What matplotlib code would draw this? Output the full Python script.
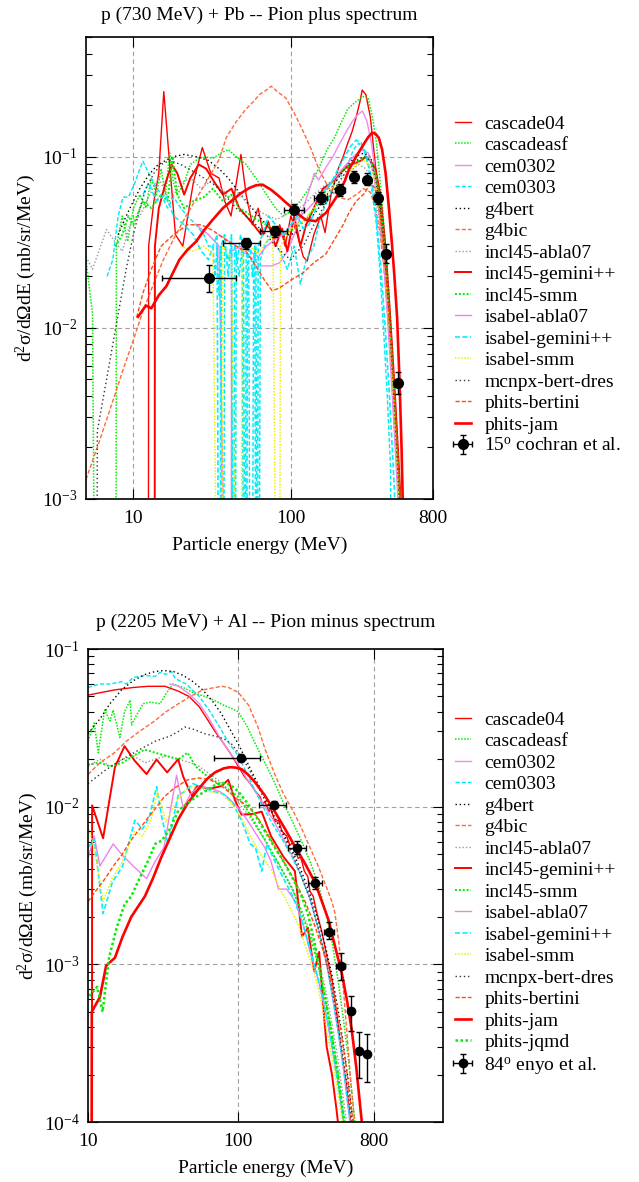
import numpy as np
import matplotlib
matplotlib.use("Agg")
import matplotlib.pyplot as plt
from matplotlib.ticker import FixedLocator, FixedFormatter, LogLocator, NullFormatter

plt.rcParams['font.family'] = ['Liberation Serif', 'DejaVu Serif']
plt.rcParams['mathtext.fontset'] = 'stix'
FS = 14

ZERO = 1e-6  # empty bins, drawn off the bottom of the log axis

# ---- p (730 MeV) + Pb, pi+ at 15 deg : (energy MeV, d2sigma) ----
pb_cascade04 = [(12.4, ZERO), (12.5, 0.03), (13.5, 0.055), (14.5, 0.08), (15.6, 0.24), (17, 0.09),
                (18.5, 0.035), (20.6, 0.03), (24, 0.07), (27.4, 0.113), (31, 0.08), (35, 0.075),
                (38, 0.055), (41.7, 0.045), (45, 0.07), (48.2, 0.103), (52, 0.06), (57, 0.04),
                (62, 0.05), (67, 0.035), (72, 0.042), (78, 0.032), (85, 0.04), (92, 0.03),
                (100, 0.045), (110, 0.035), (120, 0.026), (127, 0.0245), (140, 0.035), (155, 0.045),
                (165, 0.036), (180, 0.06), (200, 0.085), (215, 0.1), (230, 0.12), (245, 0.14),
                (260, 0.17), (275, 0.21), (284, 0.245), (300, 0.23), (320, 0.17), (340, 0.1),
                (360, 0.06), (380, 0.04), (400, 0.025), (420, 0.014), (440, 0.007), (460, 0.0035),
                (480, 0.0017), (500, 0.0008)]
pb_cascadeasf = [(5, 0.025), (5.5, 0.012), (5.9, ZERO), (7.7, ZERO), (7.8, 0.03), (8.5, 0.045),
                 (9.2, 0.032), (10, 0.05), (11, 0.06), (12, 0.05), (13, 0.075), (14, 0.06),
                 (15, 0.085), (16, 0.06), (17, 0.105), (18, 0.07), (19, 0.06), (21, 0.07),
                 (23, 0.09), (25, 0.095), (28, 0.1), (32, 0.098), (36, 0.105), (40, 0.11),
                 (45, 0.1), (52, 0.09), (60, 0.075), (70, 0.06), (80, 0.05), (90, 0.045),
                 (100, 0.048), (115, 0.055), (130, 0.065), (150, 0.085), (170, 0.11), (190, 0.13),
                 (210, 0.16), (230, 0.19), (260, 0.21), (290, 0.225), (310, 0.22), (330, 0.17),
                 (350, 0.12), (370, 0.07), (390, 0.04), (410, 0.022), (430, 0.011), (450, 0.005),
                 (470, 0.0022), (490, 0.001), (510, 0.0005)]
pb_cem0302 = [(35, 0.035), (45, 0.03), (55, 0.026), (65, 0.023), (75, 0.023), (85, 0.024),
              (95, 0.028), (105, 0.035), (120, 0.05), (135, 0.07), (141, 0.08), (150, 0.073),
              (165, 0.085), (185, 0.1), (205, 0.12), (225, 0.14), (245, 0.16), (265, 0.175),
              (285, 0.185), (305, 0.16), (325, 0.12), (345, 0.08), (365, 0.05), (390, 0.028),
              (415, 0.013), (440, 0.005), (465, 0.002), (490, 0.0008)]
pb_cem0303 = [(6.8, 0.02), (7.4, 0.025), (8, 0.045), (8.6, 0.058), (9.3, 0.058), (10.2, 0.07),
              (11, 0.085), (11.5, 0.094), (12.5, 0.08), (13.5, 0.07), (15, 0.06), (16.5, 0.05),
              (18, 0.058), (20, 0.05), (22, 0.045), (25, 0.04), (28, 0.035), (30, 0.03),
              (32, 0.03), (33, 0.02), (34, 0.03), (35, 0.0155), (36, 0.03), (37, ZERO),
              (38, 0.03), (40, 0.025), (42, 0.03), (44, ZERO), (45, 0.027), (47, 0.02),
              (49, 0.03), (51, ZERO), (52, 0.025), (54, 0.03), (56, ZERO), (58, 0.022),
              (60, 0.03), (62, ZERO), (64, 0.025), (68, 0.03), (75, 0.035), (85, 0.028),
              (95, 0.022), (105, 0.03), (115, 0.018), (125, 0.025), (140, 0.03), (155, 0.045),
              (170, 0.055), (190, 0.07), (210, 0.08), (230, 0.09), (250, 0.11), (270, 0.12),
              (290, 0.11), (310, 0.09), (330, 0.06), (350, 0.04), (370, 0.02), (390, 0.009),
              (410, 0.004), (430, 0.0015), (445, ZERO)]
pb_g4bert = [(8, 0.035), (9, 0.045), (10, 0.055), (11, 0.065), (12.5, 0.078), (14, 0.088),
             (16, 0.095), (18, 0.1), (21, 0.103), (25, 0.1), (30, 0.095), (35, 0.085),
             (40, 0.075), (45, 0.065), (52, 0.055), (60, 0.047), (70, 0.04), (80, 0.036),
             (90, 0.035), (100, 0.035), (115, 0.037), (130, 0.042), (150, 0.05), (170, 0.06),
             (200, 0.075), (230, 0.09), (260, 0.1), (290, 0.105), (320, 0.1), (345, 0.08),
             (370, 0.05), (395, 0.028), (420, 0.013), (445, 0.006), (470, 0.0025), (495, 0.001),
             (520, 0.0004)]
pb_g4bic = [(5, 0.0013), (6, 0.0021), (7, 0.0032), (8.6, 0.0057), (10, 0.0085), (11.5, 0.0125),
            (13.4, 0.018), (15.5, 0.025), (18, 0.033), (21.6, 0.045), (26, 0.06), (30, 0.075),
            (35, 0.096), (39, 0.13), (45, 0.16), (52, 0.19), (58, 0.21), (63, 0.23), (70, 0.245),
            (75, 0.258), (82, 0.24), (93, 0.22), (105, 0.18), (118, 0.145), (135, 0.11),
            (151, 0.084), (175, 0.065), (200, 0.058), (230, 0.056), (260, 0.06), (290, 0.065),
            (320, 0.062), (345, 0.05), (370, 0.035), (395, 0.02), (420, 0.01), (445, 0.0045),
            (470, 0.002), (500, 0.0008)]
pb_incl45_abla07 = [(5, 0.026), (5.5, 0.022), (6.75, 0.0375), (7.6, 0.032), (8.5, 0.028),
                    (9.5, 0.04), (11, 0.045), (12.7, 0.06), (14.5, 0.075), (17, 0.055), (20, 0.07),
                    (23, 0.075), (27, 0.065), (31, 0.072), (36, 0.065), (41, 0.058), (47, 0.062),
                    (55, 0.05), (63, 0.048), (72, 0.045), (82, 0.043), (93, 0.046), (105, 0.048),
                    (120, 0.052), (140, 0.06), (165, 0.068), (195, 0.075), (230, 0.08), (270, 0.09),
                    (300, 0.085), (330, 0.07), (355, 0.05), (380, 0.03), (405, 0.015), (430, 0.007),
                    (455, 0.003), (480, 0.0012), (505, 0.0005)]
pb_incl45_gemini = [(13.6, ZERO), (13.7, 0.03), (14.5, 0.05), (16, 0.07), (17.5, 0.09), (19, 0.08),
                    (21, 0.06), (23, 0.075), (26, 0.09), (29, 0.085), (33, 0.07), (37, 0.06),
                    (42, 0.065), (47, 0.05), (52, 0.045), (58, 0.04), (65, 0.035), (72, 0.04),
                    (80, 0.03), (88, 0.038), (95, 0.028), (105, 0.045), (115, 0.03), (125, 0.04),
                    (140, 0.05), (160, 0.065), (180, 0.07), (200, 0.078), (220, 0.085), (240, 0.09),
                    (260, 0.092), (280, 0.095), (300, 0.1), (320, 0.095), (345, 0.085), (370, 0.06),
                    (395, 0.033), (420, 0.015), (445, 0.0065), (470, 0.0027), (495, 0.0011),
                    (520, 0.0004)]
pb_incl45_smm = [(7.7, 0.03), (8.5, 0.035), (9.3, 0.045), (10, 0.04), (11.5, 0.055), (13, 0.05),
                 (15, 0.06), (16.5, 0.055), (17.7, 0.1), (19, 0.06), (21, 0.05), (24, 0.055),
                 (28, 0.058), (32, 0.065), (37, 0.055), (42, 0.06), (47, 0.05), (53, 0.047),
                 (60, 0.043), (70, 0.04), (80, 0.038), (90, 0.035), (100, 0.037), (115, 0.04),
                 (130, 0.045), (150, 0.055), (170, 0.065), (190, 0.075), (215, 0.085), (240, 0.09),
                 (270, 0.095), (300, 0.1), (320, 0.095), (345, 0.08), (370, 0.055), (395, 0.03),
                 (420, 0.013), (445, 0.0055), (470, 0.0022), (495, 0.0009), (520, 0.0004)]
pb_isabel_abla07 = [(25, 0.04), (30, 0.035), (35, 0.03), (41.7, ZERO), (42, 0.028), (48, 0.03),
                    (55, 0.028), (62, 0.026), (70, 0.03), (80, 0.033), (90, 0.035), (100, 0.04),
                    (115, 0.045), (130, 0.05), (150, 0.058), (170, 0.066), (190, 0.075),
                    (220, 0.088), (250, 0.1), (280, 0.11), (310, 0.105), (335, 0.08), (360, 0.05),
                    (385, 0.028), (410, 0.012), (435, 0.005), (460, 0.002), (485, 0.0008)]
pb_isabel_gemini = [(11.5, 0.06), (12.5, 0.07), (14, 0.055), (16, 0.06), (18, 0.045), (21, 0.04),
                    (24, 0.035), (27, 0.028), (30, 0.025), (32, 0.03), (34, 0.035), (35.5, ZERO),
                    (36, 0.03), (38, 0.035), (40, 0.02), (42, 0.035), (43, ZERO), (44, 0.03),
                    (46, 0.025), (48, 0.035), (50, 0.03), (52, ZERO), (53, 0.028), (55, 0.033),
                    (57, 0.02), (59, 0.03), (61, ZERO), (62, 0.03), (66, 0.035), (72, 0.045),
                    (80, 0.04), (90, 0.035), (100, 0.04), (110, 0.045), (120, 0.038), (130, 0.04),
                    (145, 0.05), (160, 0.062), (180, 0.07), (200, 0.085), (220, 0.1), (240, 0.115),
                    (260, 0.125), (280, 0.12), (300, 0.105), (320, 0.08), (345, 0.05), (370, 0.025),
                    (395, 0.011), (420, 0.0045), (445, 0.0017), (470, 0.0006)]
pb_isabel_smm = [(20, 0.03), (24, 0.028), (28, 0.03), (32, 0.027), (36, ZERO), (37, 0.03),
                 (42, 0.025), (48, ZERO), (49, 0.028), (55, 0.03), (62, 0.027), (70, 0.032),
                 (77, 0.035), (84, ZERO), (86, 0.03), (95, 0.035), (105, 0.04), (120, 0.042),
                 (140, 0.05), (160, 0.058), (180, 0.065), (200, 0.07), (230, 0.08), (260, 0.09),
                 (290, 0.095), (320, 0.088), (345, 0.07), (370, 0.045), (395, 0.024), (420, 0.011),
                 (445, 0.0045), (470, 0.0018), (495, 0.0007)]
pb_mcnpx = [(5.8, ZERO), (5.9, 0.0025), (7, 0.006), (8, 0.012), (9, 0.022), (10, 0.035),
            (11, 0.05), (12, 0.065), (13.5, 0.08), (15, 0.09), (17, 0.095), (20, 0.09),
            (24, 0.082), (28, 0.075), (33, 0.068), (38, 0.06), (45, 0.05), (52, 0.045),
            (60, 0.04), (70, 0.035), (80, 0.03), (90, 0.027), (100, 0.025), (110, 0.028),
            (120, 0.03), (140, 0.04), (160, 0.05), (180, 0.06), (200, 0.07), (230, 0.085),
            (260, 0.095), (290, 0.1), (320, 0.095), (345, 0.075), (370, 0.048), (395, 0.026),
            (420, 0.012), (445, 0.005), (470, 0.002), (495, 0.0008)]
pb_phits_bertini = [(10.5, 0.0115), (11.5, 0.016), (13, 0.022), (15, 0.03), (18, 0.035),
                    (22, 0.04), (27, 0.04), (32, 0.037), (38, 0.033), (45, 0.03), (52, 0.028),
                    (60, 0.023), (68, 0.019), (76, 0.0165), (84, 0.017), (100, 0.019),
                    (120, 0.021), (140, 0.024), (167, 0.027), (190, 0.033), (215, 0.04),
                    (234, 0.047), (260, 0.055), (294, 0.061), (320, 0.07), (345, 0.065),
                    (370, 0.045), (395, 0.025), (420, 0.012), (445, 0.0055), (470, 0.0024),
                    (495, 0.001), (520, 0.0004)]
pb_phits_jam = [(10.7, 0.0116), (12, 0.0135), (13, 0.013), (14.5, 0.0155), (16.2, 0.0175),
                (19.6, 0.025), (22, 0.0285), (25.1, 0.032), (28, 0.037), (31.9, 0.0428),
                (37, 0.05), (42.8, 0.056), (48, 0.061), (54.5, 0.0656), (60, 0.068),
                (66.2, 0.0686), (75, 0.064), (84.3, 0.0586), (93, 0.054), (102.5, 0.0501),
                (112, 0.046), (124, 0.0428), (144, 0.042), (167, 0.0469), (185, 0.054),
                (202, 0.0613), (220, 0.072), (234, 0.084), (260, 0.1), (290, 0.118),
                (310, 0.13), (329, 0.138), (345, 0.136), (362, 0.129), (380, 0.11),
                (400, 0.08), (420, 0.05), (440, 0.03), (455, 0.02), (473, 0.0116),
                (490, 0.005), (505, 0.002), (515, 0.0009)]

pb_exp_E = [30.1, 52.1, 78.9, 105, 155, 204, 253, 304, 359, 405, 483]
pb_exp_E_lo = [15.3, 37.1, 64, 90, 141, 190, 240, 292, 350, 398, 475]
pb_exp_E_hi = [44.8, 63.6, 94.6, 121, 170, 222, 268, 318, 368, 412, 490]
pb_exp_y = [0.0195, 0.0314, 0.0366, 0.049, 0.0573, 0.064, 0.0757, 0.0734, 0.0573, 0.0271, 0.00476]
pb_exp_y_lo = [0.0162, 0.029, 0.034, 0.046, 0.053, 0.059, 0.070, 0.068, 0.053, 0.024, 0.0041]
pb_exp_y_hi = [0.0234, 0.0336, 0.0394, 0.053, 0.062, 0.069, 0.082, 0.080, 0.062, 0.031, 0.0055]

# ---- p (2205 MeV) + Al, pi- at 84 deg ----
al_cascade04 = [(10, 0.051), (15, 0.055), (20, 0.057), (25, 0.058), (32.5, 0.058), (40, 0.054),
                (47, 0.05), (55, 0.043), (62, 0.036), (70, 0.03), (78, 0.026), (88, 0.022),
                (100, 0.018), (110, 0.0155), (120, 0.014), (130, 0.0125), (140, 0.0115),
                (145, 0.0103), (150, 0.0108), (160, 0.0093), (165, 0.0097), (175, 0.008),
                (185, 0.0082), (195, 0.007), (210, 0.0065), (220, 0.0057), (230, 0.0059),
                (250, 0.0047), (260, 0.0048), (275, 0.0039), (290, 0.0036), (300, 0.0029),
                (315, 0.0027), (330, 0.0022), (360, 0.0016), (390, 0.0011), (420, 0.0008),
                (450, 0.0005), (480, 0.0003), (520, 0.00018), (560, 0.0001), (600, 0.00006)]
al_cascadeasf = [(10, 0.026), (11, 0.034), (11.7, 0.022), (12.9, 0.041), (14, 0.035), (14.7, 0.041),
                 (16.3, 0.0275), (17.5, 0.04), (19.1, 0.0474), (19.5, 0.033), (21, 0.038),
                 (23.3, 0.045), (26, 0.046), (30.2, 0.045), (33, 0.052), (36.8, 0.06), (43, 0.057),
                 (50, 0.053), (60, 0.05), (70, 0.047), (80, 0.044), (90, 0.042), (100, 0.04),
                 (115, 0.032), (130, 0.025), (150, 0.019), (170, 0.015), (200, 0.0105),
                 (230, 0.008), (260, 0.0062), (300, 0.0045), (340, 0.0032), (380, 0.0022),
                 (420, 0.0014), (460, 0.0008), (500, 0.00045), (540, 0.00025), (580, 0.00013),
                 (620, 0.00007)]
al_cem0302 = [(35, 0.06), (40, 0.058), (47, 0.052), (55, 0.045), (62, 0.038), (70, 0.031),
              (78, 0.026), (88, 0.022), (100, 0.0185), (115, 0.0148), (130, 0.0125), (150, 0.01),
              (170, 0.0083), (200, 0.0062), (230, 0.0048), (260, 0.0037), (300, 0.0026),
              (340, 0.0017), (380, 0.0011), (420, 0.00065), (460, 0.00038), (500, 0.00022),
              (540, 0.00012), (580, 0.00007)]
al_cem0303 = [(10, 0.057), (12, 0.06), (14, 0.06), (16.7, 0.062), (18, 0.06), (20, 0.066),
              (24, 0.068), (28, 0.067), (30, 0.071), (33, 0.069), (36, 0.072), (38, 0.065),
              (45, 0.06), (55, 0.05), (65, 0.04), (75, 0.032), (85, 0.026), (100, 0.021),
              (115, 0.016), (130, 0.0125), (150, 0.0095), (170, 0.0077), (200, 0.006),
              (230, 0.0047), (260, 0.0037), (300, 0.0026), (340, 0.0017), (380, 0.0011),
              (420, 0.00065), (460, 0.00038), (500, 0.00022), (540, 0.00012), (580, 0.00007)]
al_g4bert = [(10, 0.029), (12, 0.036), (14, 0.045), (16.7, 0.055), (20, 0.063), (24, 0.069),
             (28, 0.072), (32, 0.073), (37, 0.072), (43, 0.068), (50, 0.062), (58, 0.055),
             (67, 0.047), (77, 0.039), (88, 0.031), (100, 0.025), (115, 0.019), (130, 0.015),
             (150, 0.0115), (175, 0.0085), (200, 0.0067), (230, 0.0052), (260, 0.004),
             (300, 0.0028), (340, 0.0019), (380, 0.0013), (420, 0.00085), (460, 0.00052),
             (500, 0.00031), (540, 0.00018), (580, 0.0001), (620, 0.00006)]
al_g4bic = [(10, 0.016), (12, 0.019), (15, 0.022), (18, 0.026), (22, 0.03), (27.8, 0.035),
            (33, 0.04), (40, 0.045), (48, 0.05), (58, 0.055), (70, 0.057), (78, 0.058),
            (86, 0.057), (100, 0.053), (117, 0.044), (135, 0.032), (151, 0.023), (175, 0.016),
            (200, 0.012), (230, 0.0095), (260, 0.0075), (300, 0.0055), (340, 0.0042),
            (380, 0.0032), (420, 0.0025), (440, 0.0021), (470, 0.0013), (500, 0.0007),
            (530, 0.00035), (560, 0.00018), (600, 0.00009)]
al_incl45_abla07 = [(10, 0.018), (12, 0.02), (14, 0.018), (17, 0.02), (20, 0.021), (24, 0.019),
                    (28, 0.02), (33, 0.021), (40, 0.02), (48, 0.019), (55, 0.018), (65, 0.016),
                    (75, 0.0145), (90, 0.012), (105, 0.01), (120, 0.0085), (140, 0.0068),
                    (160, 0.0055), (185, 0.0044), (210, 0.0035), (240, 0.0027), (270, 0.0021),
                    (300, 0.0016), (340, 0.0011), (380, 0.0007), (420, 0.00042), (460, 0.00025),
                    (500, 0.00014), (540, 0.00008)]
al_incl45_gemini = [(10.6, ZERO), (10.65, 0.0102), (12.6, 0.0063), (15.1, 0.0178), (17.5, 0.0242),
                    (20.5, 0.0195), (24.5, 0.0161), (28.6, 0.0199), (33.6, 0.0165), (39.8, 0.02),
                    (43, 0.0155), (48.8, 0.0118), (53, 0.0135), (65, 0.013), (77, 0.0135),
                    (85.8, 0.0148), (95, 0.011), (105, 0.0089), (125, 0.009), (143, 0.0093),
                    (165, 0.0065), (200, 0.0048), (238, 0.0039), (265, 0.0015), (290, 0.0017),
                    (320, 0.0009), (345, 0.0012), (370, 0.0005), (387, 0.0003), (420, 0.0002),
                    (450, 0.00012), (480, 0.00007)]
al_incl45_smm = [(10, 0.0185), (12, 0.019), (14, 0.018), (17, 0.019), (20, 0.021), (23.8, 0.023),
                 (28, 0.022), (33, 0.021), (40, 0.02), (46, 0.022), (52, 0.018), (60, 0.016),
                 (70, 0.0145), (80, 0.0135), (90, 0.0125), (100, 0.0115), (115, 0.0095),
                 (130, 0.0078), (150, 0.0062), (170, 0.005), (200, 0.0038), (230, 0.003),
                 (260, 0.0022), (300, 0.0015), (340, 0.001), (380, 0.0006), (420, 0.00035),
                 (460, 0.0002), (500, 0.00011), (540, 0.00006)]
al_isabel_abla07 = [(10, 0.0047), (11, 0.0065), (12, 0.0042), (14.7, 0.0058), (17, 0.0049),
                    (20, 0.0042), (24.5, 0.0035), (28, 0.0045), (32, 0.0055), (38.8, 0.0158),
                    (43, 0.0098), (48, 0.012), (55, 0.0135), (65, 0.013), (75, 0.0125),
                    (85, 0.0115), (100, 0.0098), (115, 0.0082), (130, 0.0068), (150, 0.0055),
                    (165, 0.0045), (185, 0.003), (210, 0.003), (240, 0.0025), (270, 0.0018),
                    (300, 0.0012), (340, 0.0008), (380, 0.0005), (420, 0.0003), (460, 0.00018),
                    (500, 0.0001), (540, 0.00006)]
al_isabel_gemini = [(10, 0.0055), (11, 0.0062), (12.6, 0.0021), (14.5, 0.0033), (17, 0.0042),
                    (20.5, 0.0082), (23, 0.0072), (25.5, 0.0085), (28.6, 0.0134), (31, 0.0085),
                    (34, 0.0058), (39.8, 0.0118), (44, 0.0125), (50, 0.014), (58, 0.0132),
                    (68, 0.0125), (80, 0.012), (92, 0.0105), (105, 0.0082), (120, 0.0058),
                    (130, 0.0055), (143, 0.0039), (155, 0.0058), (175, 0.0045), (200, 0.0035),
                    (230, 0.0027), (260, 0.002), (290, 0.0014), (330, 0.0009), (370, 0.00058),
                    (410, 0.00035), (450, 0.0002), (490, 0.00012), (530, 0.00007)]
al_isabel_smm = [(10, 0.0075), (11, 0.0055), (12.6, 0.0025), (14.5, 0.0035), (17, 0.0045),
                 (20.5, 0.007), (23, 0.0065), (26, 0.008), (29, 0.0125), (33, 0.008), (37, 0.01),
                 (42, 0.012), (48, 0.0135), (55, 0.013), (65, 0.0125), (78, 0.012), (90, 0.0105),
                 (105, 0.0085), (120, 0.0065), (140, 0.005), (165, 0.004), (190, 0.003),
                 (220, 0.0023), (250, 0.0018), (280, 0.0013), (320, 0.0009), (360, 0.00055),
                 (400, 0.00033), (440, 0.0002), (480, 0.00012), (520, 0.00007)]
al_mcnpx = [(10, 0.014), (13, 0.017), (17, 0.02), (22, 0.023), (28, 0.026), (35, 0.028),
            (40, 0.03), (44, 0.032), (50, 0.031), (60, 0.029), (70, 0.028), (80, 0.027),
            (90, 0.025), (100, 0.022), (115, 0.018), (130, 0.0145), (150, 0.011), (175, 0.0085),
            (200, 0.0065), (230, 0.005), (260, 0.0037), (300, 0.0026), (340, 0.0017),
            (380, 0.0011), (420, 0.0007), (460, 0.00042), (500, 0.00025), (540, 0.00015),
            (580, 0.00009)]
al_phits_bertini = [(10, 0.0025), (11.5, 0.003), (13, 0.0035), (15, 0.0043), (16.7, 0.0049),
                    (19, 0.006), (22, 0.0072), (25, 0.0085), (27.8, 0.0096), (32, 0.0115),
                    (37, 0.013), (46, 0.0148), (55, 0.0152), (65, 0.0148), (77, 0.0136),
                    (90, 0.012), (100, 0.011), (117, 0.01), (135, 0.0085), (155, 0.0068),
                    (180, 0.0053), (215, 0.004), (245, 0.0032), (278, 0.0025), (320, 0.0018),
                    (359, 0.0013), (400, 0.0009), (440, 0.0006), (480, 0.00038), (520, 0.00023),
                    (560, 0.00013), (600, 0.00008)]
al_phits_jam = [(10.5, ZERO), (10.6, 0.0005), (12, 0.00062), (13.2, 0.00098), (15.1, 0.0011),
                (17, 0.0015), (19.4, 0.002), (23.9, 0.0027), (27, 0.0035), (30.8, 0.0048),
                (35, 0.0063), (39.8, 0.0083), (46, 0.0105), (54.2, 0.0129), (62, 0.015),
                (70, 0.0165), (80, 0.0175), (88, 0.0178), (96, 0.0177), (105, 0.0173),
                (116, 0.016), (129, 0.0143), (150, 0.0118), (175, 0.0093), (205, 0.0072),
                (238, 0.0056), (280, 0.0043), (324, 0.0033), (360, 0.0025), (399, 0.0019),
                (440, 0.0013), (489, 0.00087), (530, 0.00058), (569, 0.00038), (610, 0.00022),
                (650, 0.00012), (690, 0.00007)]
al_phits_jqmd = [(10.2, 0.00063), (11.5, 0.00072), (12.5, 0.0005), (13.8, 0.0011), (15.5, 0.0017),
                 (17.5, 0.0024), (19.4, 0.0027), (22, 0.0035), (25, 0.0045), (28, 0.0058),
                 (31, 0.0061), (35, 0.0072), (40, 0.0095), (46, 0.0105), (52, 0.0115),
                 (60, 0.0125), (68, 0.0135), (78, 0.0142), (88, 0.0138), (100, 0.0125),
                 (115, 0.0105), (130, 0.0088), (150, 0.007), (175, 0.0055), (200, 0.0045),
                 (230, 0.0035), (260, 0.0028), (290, 0.0021), (320, 0.0014), (350, 0.0009),
                 (380, 0.0006), (420, 0.00035), (460, 0.0002), (500, 0.00011), (540, 0.00006)]

al_exp_E = [103.6, 173, 247, 323, 400, 481, 561, 634, 721]
al_exp_E_lo = [68.8, 138, 213, 293, 369, 445, 545, 625, 712]
al_exp_E_hi = [139.7, 208, 284, 359, 435, 516, 575, 643, 730]
al_exp_y = [0.0203, 0.0103, 0.0055, 0.00328, 0.0016, 0.00097, 0.000506, 0.000282, 0.000268]
al_exp_y_lo = [0.0195, 0.0098, 0.0050, 0.0030, 0.00145, 0.0008, 0.00038, 0.00019, 0.00018]
al_exp_y_hi = [0.0212, 0.0109, 0.0061, 0.0036, 0.00185, 0.00118, 0.00063, 0.00037, 0.00036]

# line styles, gnuplot-like
DASH = (0, (3, 1.5))
DOT = (0, (1, 1))
styles = {
    'cascade04': dict(color='#ff0000', ls='-', lw=1.0),
    'cascadeasf': dict(color='#00ee00', ls=DOT, lw=1.1),
    'cem0302': dict(color='#f08af0', ls='-', lw=1.0),
    'cem0303': dict(color='#00e8f0', ls=DASH, lw=1.0),
    'g4bert': dict(color='#000000', ls=(0, (1, 2)), lw=1.0),
    'g4bic': dict(color='#ff6a3a', ls=DASH, lw=1.0),
    'incl45-abla07': dict(color='#999999', ls=(0, (1, 1.5)), lw=1.0),
    'incl45-gemini++': dict(color='#ff0000', ls='-', lw=1.4),
    'incl45-smm': dict(color='#00ee00', ls=DOT, lw=1.4),
    'isabel-abla07': dict(color='#ee82ee', ls='-', lw=1.0),
    'isabel-gemini++': dict(color='#00f0ff', ls=DASH, lw=1.2),
    'isabel-smm': dict(color='#eeee00', ls=DOT, lw=1.1),
    'mcnpx-bert-dres': dict(color='#333333', ls=(0, (1, 2)), lw=1.0),
    'phits-bertini': dict(color='#ff4a10', ls=DASH, lw=1.0),
    'phits-jam': dict(color='#ff0000', ls='-', lw=1.9),
    'phits-jqmd': dict(color='#00ee00', ls=DOT, lw=1.8),
}

pb_models = [('cascade04', pb_cascade04), ('cascadeasf', pb_cascadeasf), ('cem0302', pb_cem0302),
             ('cem0303', pb_cem0303), ('g4bert', pb_g4bert), ('g4bic', pb_g4bic),
             ('incl45-abla07', pb_incl45_abla07), ('incl45-gemini++', pb_incl45_gemini),
             ('incl45-smm', pb_incl45_smm), ('isabel-abla07', pb_isabel_abla07),
             ('isabel-gemini++', pb_isabel_gemini), ('isabel-smm', pb_isabel_smm),
             ('mcnpx-bert-dres', pb_mcnpx), ('phits-bertini', pb_phits_bertini),
             ('phits-jam', pb_phits_jam)]
al_models = [('cascade04', al_cascade04), ('cascadeasf', al_cascadeasf), ('cem0302', al_cem0302),
             ('cem0303', al_cem0303), ('g4bert', al_g4bert), ('g4bic', al_g4bic),
             ('incl45-abla07', al_incl45_abla07), ('incl45-gemini++', al_incl45_gemini),
             ('incl45-smm', al_incl45_smm), ('isabel-abla07', al_isabel_abla07),
             ('isabel-gemini++', al_isabel_gemini), ('isabel-smm', al_isabel_smm),
             ('mcnpx-bert-dres', al_mcnpx), ('phits-bertini', al_phits_bertini),
             ('phits-jam', al_phits_jam), ('phits-jqmd', al_phits_jqmd)]


def sup(s):
    return r'$\mathregular{' + s + '}$'


def panel(ax, models, exp, exp_label, title, xlim, ylim, xgrid, ydecades, leg_top, title_pad):
    for name, pts in models:
        e, v = zip(*pts)
        ax.plot(e, v, label=name, **styles[name])
    E, Elo, Ehi, y, ylo, yhi, ms = exp
    E, y = np.array(E), np.array(y)
    xerr = [E - np.array(Elo), np.array(Ehi) - E]
    yerr = [y - np.array(ylo), np.array(yhi) - y]
    ax.errorbar(E, y, xerr=xerr, yerr=yerr, fmt='o', color='black', ms=ms,
                elinewidth=1.0, capsize=2, capthick=1.0, label=exp_label, zorder=10)

    ax.set_xscale('log')
    ax.set_yscale('log')
    ax.set_xlim(*xlim)
    ax.set_ylim(*ylim)

    ax.xaxis.set_major_locator(FixedLocator([10, 100, 800]))
    ax.xaxis.set_major_formatter(FixedFormatter(['10', '100', '800']))
    ax.xaxis.set_minor_locator(FixedLocator([]))
    ax.yaxis.set_major_locator(FixedLocator([10.0 ** d for d in ydecades]))
    ax.yaxis.set_major_formatter(FixedFormatter([sup('10^{%d}' % d) for d in ydecades]))
    ax.yaxis.set_minor_locator(LogLocator(base=10, subs=np.arange(2, 10)))
    ax.yaxis.set_minor_formatter(NullFormatter())
    ax.tick_params(which='both', direction='in', top=True, right=True, labelsize=FS, width=0.8)
    ax.tick_params(which='major', length=7, pad=6)
    ax.tick_params(axis='x', which='major', pad=8)
    ax.tick_params(which='minor', length=4)
    for s in ax.spines.values():
        s.set_linewidth(1.2)

    for gx in xgrid:
        ax.axvline(gx, color='#a0a0a0', lw=0.8, ls=(0, (4, 3)), zorder=0)
    for d in ydecades:
        if ylim[0] < 10.0 ** d < ylim[1]:
            ax.axhline(10.0 ** d, color='#a0a0a0', lw=0.8, ls=(0, (4, 3)), zorder=0)

    ax.set_xlabel('Particle energy (MeV)', fontsize=FS, labelpad=7)
    ax.set_ylabel('d' + sup('^2') + 'σ/dΩdE (mb/sr/MeV)', fontsize=FS, labelpad=3)
    ax.set_title(title, fontsize=FS, pad=title_pad)

    ax.legend(loc='upper left', bbox_to_anchor=(0.712, leg_top), bbox_transform=ax.figure.transFigure,
              frameon=False, fontsize=FS, borderpad=0, borderaxespad=0, handlelength=0.8,
              handletextpad=0.7, labelspacing=0.2)


fig = plt.figure(figsize=(6.39, 11.82), dpi=100)
ax1 = fig.add_axes([86 / 639, 1 - 499 / 1182, 347 / 639, 462 / 1182])
ax2 = fig.add_axes([88 / 639, 1 - 1122 / 1182, 355 / 639, 473 / 1182])

panel(ax1, pb_models,
      (pb_exp_E, pb_exp_E_lo, pb_exp_E_hi, pb_exp_y, pb_exp_y_lo, pb_exp_y_hi, 7),
      '15' + sup('^o') + ' cochran et al.', 'p (730 MeV) + Pb -- Pion plus spectrum',
      (5, 800), (1e-3, 0.5), [10, 100], [-3, -2, -1], 1 - 115 / 1182, 12)
panel(ax2, al_models,
      (al_exp_E, al_exp_E_lo, al_exp_E_hi, al_exp_y, al_exp_y_lo, al_exp_y_hi, 6),
      '84' + sup('^o') + ' enyo et al.', 'p (2205 MeV) + Al -- Pion minus spectrum',
      (10, 2300), (1e-4, 0.1), [100, 800], [-4, -3, -2, -1], 1 - 711 / 1182, 16)

fig.savefig('out.png', dpi=100)
